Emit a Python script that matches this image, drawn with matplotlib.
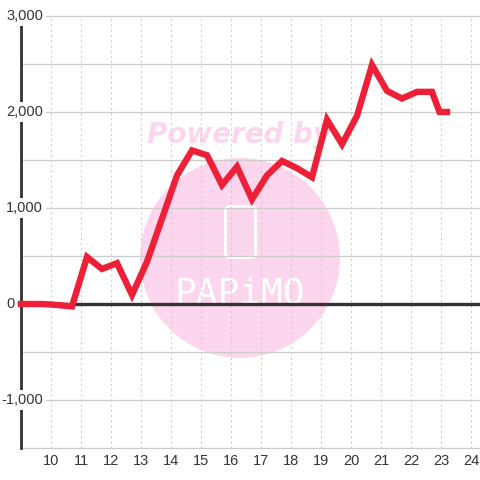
import numpy as np
import matplotlib
matplotlib.use("Agg")
import matplotlib.pyplot as plt
from matplotlib.patches import Circle, FancyBboxPatch

plt.rcParams['font.family'] = ['Liberation Sans', 'DejaVu Sans']

# ---- data ----
x_vals = [9.0, 9.7, 10.2, 10.7, 11.2, 11.7, 12.2, 12.7, 13.2, 13.7, 14.2, 14.7,
          15.2, 15.7, 16.2, 16.7, 17.2, 17.7, 18.2, 18.7, 19.2, 19.7, 20.2,
          20.7, 21.2, 21.7, 22.2, 22.7, 22.95, 23.2]
y_vals = [0, 0, -10, -25, 490, 365, 425, 95, 440, 890, 1340, 1600,
          1550, 1240, 1430, 1090, 1340, 1490, 1415, 1320, 1920, 1665, 1960,
          2490, 2220, 2140, 2210, 2210, 2000, 2000]
x_ticks = list(range(10, 25))
y_grid = list(range(-1500, 3001, 500))
y_labels = [-1000, 0, 1000, 2000, 3000]

W = 480.0
fig = plt.figure(figsize=(4.8, 4.8), dpi=100)
ax = fig.add_axes([21 / W, 32 / W, 459 / W, 432 / W])
ax.set_xlim(9.0, 24.3)
ax.set_ylim(-1500, 3000)

# watermark (below grid)
ax.add_patch(Circle((240 / W, 1 - 258 / W), 100 / W, transform=fig.transFigure,
                    fc='#fcd6ec', ec='none', zorder=0.1))
ax.text(239 / W, 1 - 143 / W, 'Powered by', transform=fig.transFigure,
        ha='center', va='baseline', fontsize=20, fontweight='bold',
        fontstyle='italic', family='DejaVu Sans', color='#fcd6ec', zorder=0.2)
ax.add_patch(FancyBboxPatch((225.5 / W, 1 - 257.5 / W), 30 / W, 51 / W,
                            boxstyle='round,pad=0,rounding_size=%f' % (4 / W),
                            transform=fig.transFigure, fc='none', ec='white',
                            lw=2, zorder=0.2))
ax.text(240 / W, 1 - 304 / W, 'PAPiMO', transform=fig.transFigure,
        ha='center', va='baseline', fontsize=26, family='DejaVu Sans Mono',
        color='white', zorder=0.2)

# grid
ax.set_axisbelow(True)
ax.set_yticks(y_grid)
ax.set_xticks(x_ticks)
ax.yaxis.grid(True, color='#cccccc', lw=0.9)
ax.xaxis.grid(True, color='#cccccc', lw=0.75, ls=(0, (2, 3)))
for gl in ax.get_ygridlines():
    gl.set_clip_on(False)

for s in ['top', 'right', 'bottom']:
    ax.spines[s].set_visible(False)
ax.spines['left'].set_color('#333333')
ax.spines['left'].set_linewidth(2)
ax.spines['left'].set_zorder(2.5)

ax.tick_params(axis='y', length=0, labelleft=False)
ax.tick_params(axis='x', length=0, pad=4.5, labelsize=10.5, labelcolor='#333333')
ax.set_xticklabels([str(t) for t in x_ticks])

ax.axhline(0, color='#333333', lw=2.4, zorder=2.6)

ax.plot(x_vals, y_vals, color='#ee2038', lw=4.6, solid_capstyle='projecting',
        solid_joinstyle='miter', zorder=4, clip_on=False)

ytrans = ax.get_yaxis_transform()
for v in y_labels:
    label = '{:,}'.format(v)
    if v == 0:
        ax.text((15 - 21) / 459, v, label, transform=ytrans, ha='right',
                va='center', fontsize=10.5, color='#333333', zorder=5,
                clip_on=False)
    else:
        ax.text((43 - 21) / 459, v, label, transform=ytrans, ha='right',
                va='center', fontsize=10.5, color='#333333', zorder=5,
                clip_on=False,
                bbox=dict(boxstyle='square,pad=0.18', fc='white', ec='none'))

fig.savefig('out.png', dpi=100)
